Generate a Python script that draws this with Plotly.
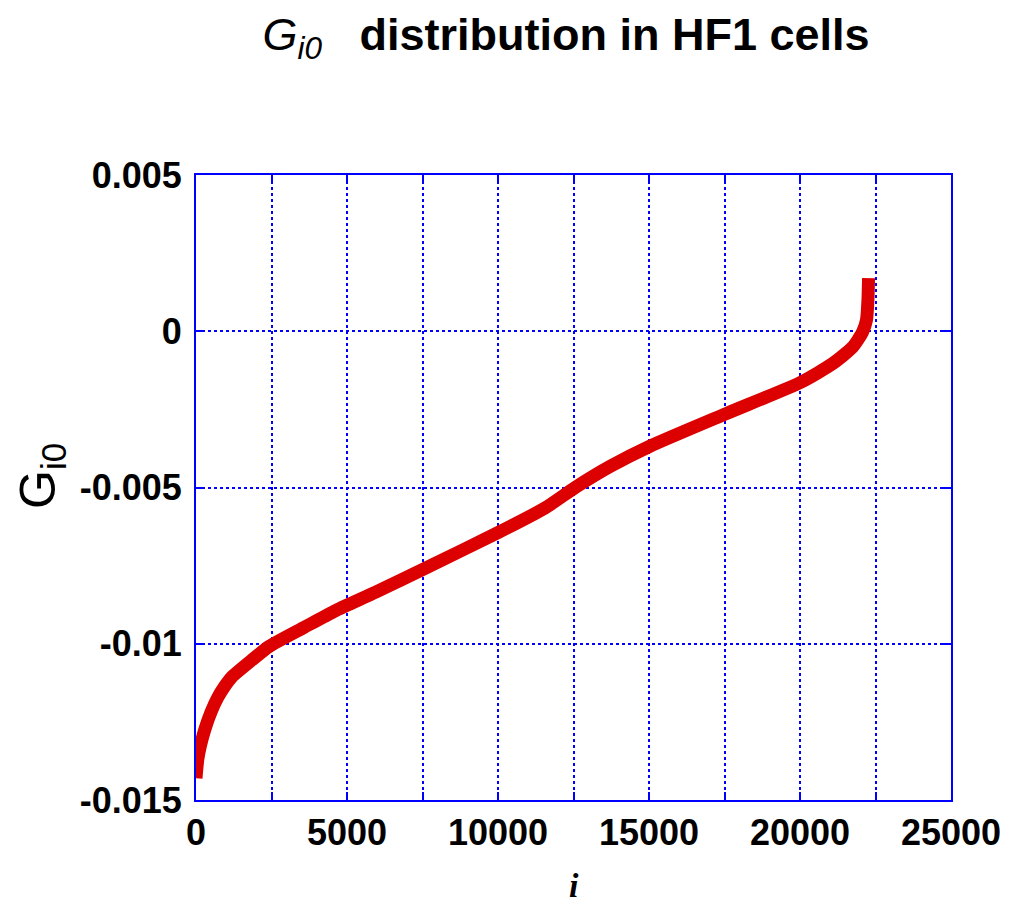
import plotly.graph_objects as go

# Cell index and G_i0 value along the sorted distribution
cell_index = [0, 60, 150, 300, 500, 720, 950, 1180, 1840, 2430, 3590, 4640,
              5950, 7600, 10030, 11550, 12570, 13720, 15030, 17570,
              20030, 21090, 21740, 22070, 22200, 22250, 22270]
g_i0 = [-0.0143, -0.0137, -0.01325, -0.01272, -0.01218, -0.01172, -0.01136,
        -0.01107, -0.01053, -0.01008, -0.00947, -0.00893, -0.00835, -0.00758,
        -0.00643, -0.00566, -0.00499, -0.00432, -0.00368, -0.00263,
        -0.00163, -0.00103, -0.00051, -0.00003, 0.00035, 0.0010, 0.0017]

x_tick_vals = [0, 2500, 5000, 7500, 10000, 12500, 15000, 17500, 20000, 22500, 25000]
x_tick_text = ["0", "", "5000", "", "10000", "", "15000", "", "20000", "", "25000"]
y_tick_vals = [-0.015, -0.01, -0.005, 0, 0.005]
y_tick_text = ["-0.015", "-0.01", "-0.005", "0", "0.005"]

BLUE = "#0000ff"
TICK_FONT = dict(family="Liberation Sans", size=36, color="black", weight="bold")

fig = go.Figure()
fig.add_trace(go.Scatter(
    x=cell_index, y=g_i0, mode="lines",
    line=dict(color="#dd0000", width=13, shape="spline", smoothing=0.6),
    showlegend=False, hoverinfo="skip",
))

axis_common = dict(
    showline=True, linecolor=BLUE, linewidth=2, mirror="ticks",
    ticks="inside", ticklen=8, tickwidth=2, tickcolor=BLUE,
    showgrid=True, gridcolor=BLUE, gridwidth=2, griddash="dot",
    zeroline=False, tickfont=TICK_FONT,
)

fig.update_xaxes(range=[0, 25000], tickmode="array", tickvals=x_tick_vals,
                 ticktext=x_tick_text, **axis_common)
fig.update_yaxes(range=[-0.015, 0.005], tickmode="array", tickvals=y_tick_vals,
                 ticktext=y_tick_text, ticklabelstandoff=5, **axis_common)

fig.update_layout(
    width=1013, height=908,
    margin=dict(l=196, r=57, t=175, b=108),
    paper_bgcolor="white", plot_bgcolor="white",
    title=dict(
        text="<i>G</i><sub><i>i0</i></sub>\u00a0\u00a0\u00a0<b>distribution in HF1 cells</b>",
        font=dict(family="Liberation Sans", size=45, color="black"),
        x=566 / 1013, xanchor="center", xref="container",
        y=1 - 34 / 908, yanchor="middle", yref="container",
    ),
    annotations=[
        dict(text="G<sub>i0</sub>", textangle=-90, showarrow=False,
             xref="paper", yref="paper", x=(40 - 196) / 760, y=(800 - 476) / 625,
             xanchor="center", yanchor="middle",
             font=dict(family="Liberation Sans", size=50, color="black")),
        dict(text="<b><i>i</i></b>", showarrow=False,
             xref="paper", yref="paper", x=(577 - 196) / 760, y=(800 - 885) / 625,
             xanchor="center", yanchor="middle",
             font=dict(family="Liberation Serif", size=34, color="black")),
    ],
)

fig.write_html("out.html")
